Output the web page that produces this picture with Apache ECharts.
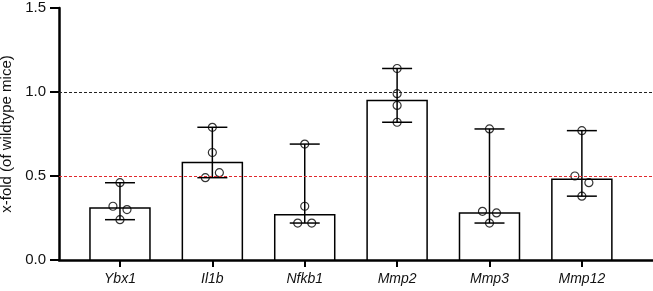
<!DOCTYPE html>
<html lang="en">
<head>
    <meta charset="UTF-8">
    <script src="https://cdn.jsdelivr.net/npm/echarts@6/dist/echarts.min.js"></script>
    <style>
        body { margin: 0; background: #fff; }
        #chart { width: 653px; height: 291px; }
    </style>
</head>
<body>
    <div id="chart"></div>
    <script>
        var genes = ['Ybx1', 'Il1b', 'Nfkb1', 'Mmp2', 'Mmp3', 'Mmp12'];
        var means = [0.31, 0.58, 0.27, 0.95, 0.28, 0.48];
        // individual mice per gene
        var points = [
            [0.46, 0.32, 0.30, 0.24],
            [0.79, 0.64, 0.52, 0.49],
            [0.69, 0.32, 0.22, 0.22],
            [1.14, 0.99, 0.92, 0.82],
            [0.78, 0.29, 0.28, 0.22],
            [0.77, 0.50, 0.46, 0.38]
        ];
        // which side of the error bar each point sits on (-1 left, 0 centre, 1 right)
        var pointSide = [
            [0, -1, 1, 0],
            [0, 0, 1, -1],
            [0, 0, -1, 1],
            [0, 0, 0, 0],
            [0, -1, 1, 0],
            [0, -1, 1, 0]
        ];

        var chart = echarts.init(document.getElementById('chart'));
        var idx = genes.map(function (g, i) { return i; });

        var barData = means.map(function (v, i) { return [i, v]; });
        var rangeData = points.map(function (p, i) {
            return [i, Math.min.apply(null, p), Math.max.apply(null, p)];
        });
        var dotData = [];
        points.forEach(function (p, i) {
            p.forEach(function (v, j) { dotData.push([i + pointSide[i][j] * 0.076, v]); });
        });

        chart.setOption({
            animation: false,
            grid: { left: 59, right: 0, top: 8, bottom: 31, outerBoundsMode: 'none', containLabel: false },
            xAxis: {
                type: 'value',
                min: -0.66,
                max: 5.77,
                splitLine: { show: false },
                axisLine: { onZero: false, lineStyle: { color: '#000', width: 2.5 } },
                axisTick: { customValues: idx, length: 7, lineStyle: { color: '#000', width: 2 } },
                axisLabel: {
                    customValues: idx,
                    formatter: function (v) { return genes[Math.round(v)]; },
                    fontStyle: 'italic', fontSize: 14, color: '#111',
                    fontFamily: 'Liberation Sans, Arial', margin: 12
                }
            },
            yAxis: {
                type: 'value',
                min: 0, max: 1.5, interval: 0.5,
                name: 'x-fold (of wildtype mice)',
                nameLocation: 'middle',
                nameGap: 41,
                nameRotate: 90,
                nameTextStyle: { fontSize: 15, color: '#111', fontFamily: 'Liberation Sans, Arial' },
                splitLine: { show: false },
                axisLine: { show: true, onZero: false, lineStyle: { color: '#000', width: 2.5 } },
                axisTick: { show: true, length: 9, lineStyle: { color: '#000', width: 2 } },
                axisLabel: {
                    formatter: function (v) { return v.toFixed(1); },
                    fontSize: 15, color: '#111', fontFamily: 'Liberation Sans, Arial', margin: 13
                }
            },
            series: [
                {
                    type: 'custom',
                    data: barData,
                    renderItem: function (params, api) {
                        var top = api.coord([api.value(0), api.value(1)]);
                        var base = api.coord([api.value(0), 0]);
                        return {
                            type: 'rect',
                            shape: { x: top[0] - 30, y: top[1], width: 60, height: base[1] - top[1] },
                            style: { fill: '#fff', stroke: '#000', lineWidth: 1.5 }
                        };
                    },
                    markLine: {
                        silent: true,
                        symbol: 'none',
                        label: { show: false },
                        data: [
                            { yAxis: 1.0, lineStyle: { color: '#222', type: [3, 2], width: 1 } },
                            { yAxis: 0.5, lineStyle: { color: '#e0282d', type: [3, 2], width: 1 } }
                        ]
                    },
                    z: 2
                },
                {
                    type: 'custom',
                    data: rangeData,
                    renderItem: function (params, api) {
                        var lo = api.coord([api.value(0), api.value(1)]);
                        var hi = api.coord([api.value(0), api.value(2)]);
                        var st = { stroke: '#000', lineWidth: 1.5 };
                        return {
                            type: 'group',
                            children: [
                                { type: 'line', shape: { x1: lo[0], y1: lo[1], x2: hi[0], y2: hi[1] }, style: st },
                                { type: 'line', shape: { x1: lo[0] - 15, y1: lo[1], x2: lo[0] + 15, y2: lo[1] }, style: st },
                                { type: 'line', shape: { x1: hi[0] - 15, y1: hi[1], x2: hi[0] + 15, y2: hi[1] }, style: st }
                            ]
                        };
                    },
                    z: 3
                },
                {
                    type: 'scatter',
                    data: dotData,
                    symbol: 'circle',
                    symbolSize: 8,
                    itemStyle: { color: 'rgba(255,255,255,0)', borderColor: '#000', borderWidth: 1.2 },
                    z: 4
                }
            ]
        });
    </script>
</body>
</html>
